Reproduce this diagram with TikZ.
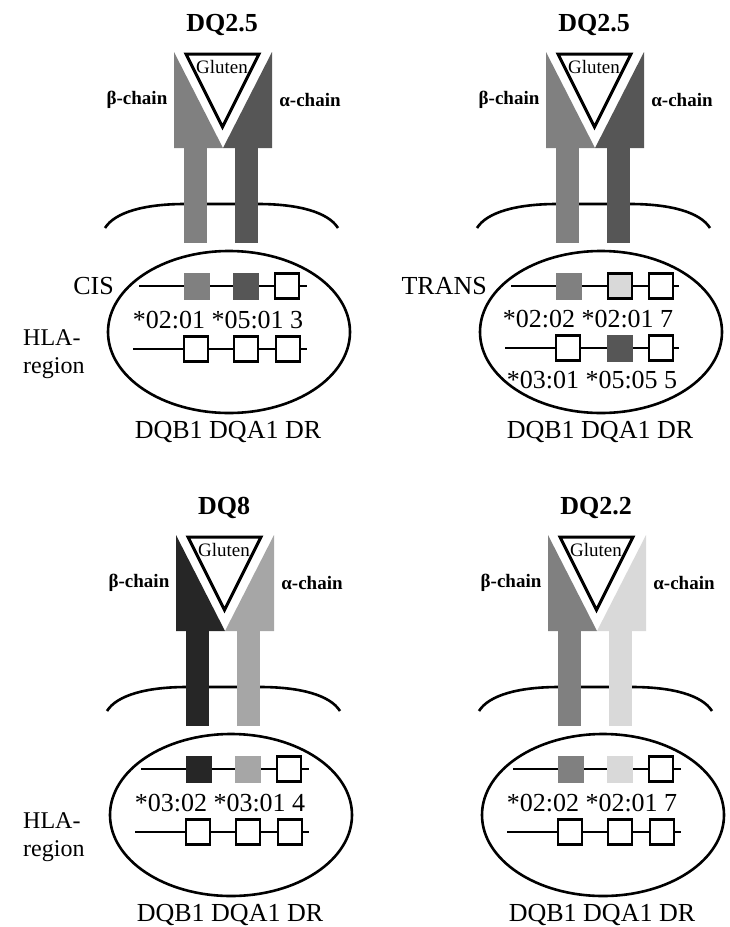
\documentclass[tikz,border=0pt]{standalone}
\usepackage{fontspec}
\setmainfont{Liberation Serif}

\definecolor{dqmid}{HTML}{808080}
\definecolor{dqdark}{HTML}{565656}
\definecolor{dqblack}{HTML}{262626}
\definecolor{dqsilver}{HTML}{A6A6A6}
\definecolor{dqlight}{HTML}{D9D9D9}

% receptor: beta colour, alpha colour, name
\newcommand{\dqreceptor}[3]{%
  \draw[membrane] (105,228) .. controls (115,212) and (145,204) .. (185,204)
    -- (258,204) .. controls (298,204) and (328,212) .. (338,228);
  \fill[#1] (184,148) rectangle (207,243);
  \fill[#2] (235,148) rectangle (258,243);
  \fill[#1] (174,52) -- (223,148) -- (174,148) -- cycle;
  \fill[#2] (272,52) -- (223,148) -- (272,148) -- cycle;
  \draw[line width=3,line join=miter] (186,54) -- (259,54) -- (222.5,127) -- cycle;
  \node[small] (gluten) at (222,67) {Gluten};
  \node[title] (name) at (222,25) {#3};
  \node[chain] (beta) at (137,100) {β-chain};
  \node[chain] (alpha) at (310,100) {α-chain};
  \draw[hla] (229,332) ellipse [x radius=121, y radius=81];
  \node[txt] (genes) at (228,432) {DQB1 DQA1 DR};
}

\begin{document}
\begin{tikzpicture}[x=1pt,y=-1pt,
  membrane/.style={line width=2.6},
  hla/.style={line width=2.6},
  wire/.style={line width=2.4},
  gene/.style={minimum width=26,minimum height=27,inner sep=0,outer sep=0},
  filled/.style={gene,fill=#1},
  empty/.style={gene,minimum width=24,minimum height=25,draw,line width=2.4,fill=#1},
  empty/.default=white,
  txt/.style={font=\fontsize{26}{28}\selectfont,inner sep=0},
  small/.style={font=\fontsize{19}{21}\selectfont,inner sep=0},
  chain/.style={font=\bfseries\fontsize{19}{21}\selectfont,inner sep=0},
  title/.style={font=\bfseries\fontsize{26}{28}\selectfont,inner sep=0},
  side/.style={font=\fontsize{24}{28}\selectfont,align=left,anchor=west,inner sep=0}]
  \useasboundingbox (0,0) rectangle (730,927);

  \begin{scope}[name prefix=cis-]
    \dqreceptor{dqmid}{dqdark}{DQ2.5}
    \coordinate (a1) at (139,286);
    \coordinate (a2) at (307,286);
    \draw[wire] (a1) -- (a2);
    \node[filled=dqmid] (b1) at (197,286) {};
    \node[filled=dqdark] (b2) at (246,286) {};
    \node[empty] (b3) at (287,286) {};
    \node[txt] (al1) at (218,320) {*02:01 *05:01 3};
    \coordinate (c1) at (133,349);
    \coordinate (c2) at (307,349);
    \draw[wire] (c1) -- (c2);
    \node[empty] (d1) at (196,349) {};
    \node[empty] (d2) at (246,349) {};
    \node[empty] (d3) at (288,349) {};
    \node[txt,anchor=east] (lab) at (114,286) {CIS};
    \node[side] (hla) at (23,354) {HLA-\\region};
  \end{scope}

  \begin{scope}[shift={(372,0)},name prefix=trans-]
    \dqreceptor{dqmid}{dqdark}{DQ2.5}
    \coordinate (a1) at (139,286);
    \coordinate (a2) at (307,286);
    \draw[wire] (a1) -- (a2);
    \node[filled=dqmid] (b1) at (197,286) {};
    \node[empty=dqlight] (b2) at (248,286) {};
    \node[empty] (b3) at (289,286) {};
    \node[txt] (al1) at (216,319) {*02:02 *02:01 7};
    \coordinate (c1) at (133,348);
    \coordinate (c2) at (307,348);
    \draw[wire] (c1) -- (c2);
    \node[empty] (d1) at (196,348) {};
    \node[filled=dqdark] (d2) at (248,348) {};
    \node[empty] (d3) at (289,348) {};
    \node[txt] (al2) at (220,380) {*03:01 *05:05 5};
    \node[txt,anchor=east] (lab) at (115,286) {TRANS};
  \end{scope}

  \begin{scope}[shift={(2,483)},name prefix=dq8-]
    \dqreceptor{dqblack}{dqsilver}{DQ8}
    \coordinate (a1) at (139,286);
    \coordinate (a2) at (307,286);
    \draw[wire] (a1) -- (a2);
    \node[filled=dqblack] (b1) at (197,286) {};
    \node[filled=dqsilver] (b2) at (246,286) {};
    \node[empty] (b3) at (287,286) {};
    \node[txt] (al1) at (218,320) {*03:02 *03:01 4};
    \coordinate (c1) at (133,349);
    \coordinate (c2) at (307,349);
    \draw[wire] (c1) -- (c2);
    \node[empty] (d1) at (196,349) {};
    \node[empty] (d2) at (246,349) {};
    \node[empty] (d3) at (288,349) {};
    \node[side] (hla) at (21,354) {HLA-\\region};
  \end{scope}

  \begin{scope}[shift={(374,483)},name prefix=dq22-]
    \dqreceptor{dqmid}{dqlight}{DQ2.2}
    \coordinate (a1) at (139,286);
    \coordinate (a2) at (307,286);
    \draw[wire] (a1) -- (a2);
    \node[filled=dqmid] (b1) at (197,286) {};
    \node[filled=dqlight] (b2) at (246,286) {};
    \node[empty] (b3) at (287,286) {};
    \node[txt] (al1) at (218,320) {*02:02 *02:01 7};
    \coordinate (c1) at (133,349);
    \coordinate (c2) at (307,349);
    \draw[wire] (c1) -- (c2);
    \node[empty] (d1) at (196,349) {};
    \node[empty] (d2) at (246,349) {};
    \node[empty] (d3) at (288,349) {};
  \end{scope}
\end{tikzpicture}
\end{document}
